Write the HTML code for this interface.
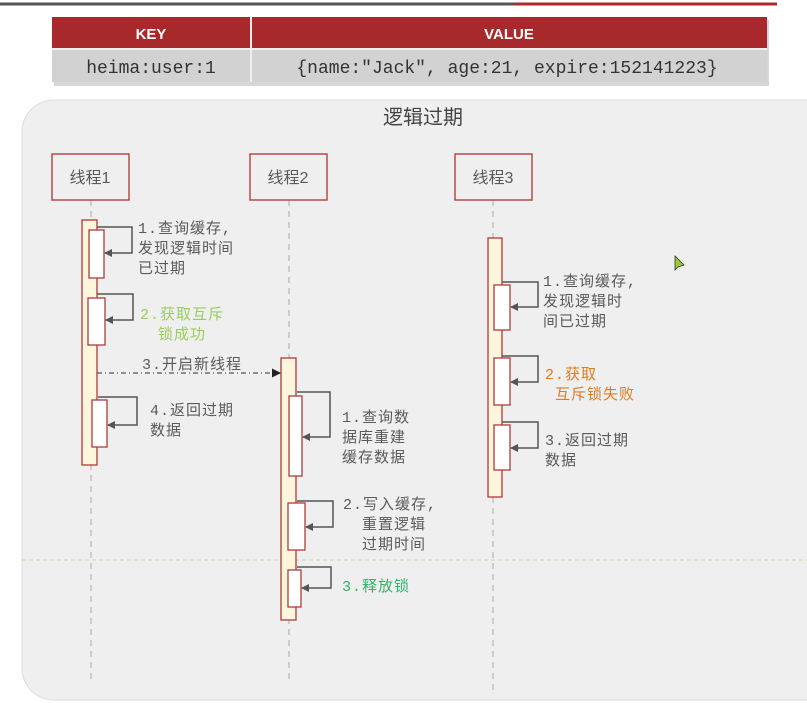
<!DOCTYPE html>
<html><head><meta charset="utf-8"><style>
html,body{margin:0;padding:0;background:#fff;width:807px;height:703px;overflow:hidden}
svg{display:block}
text{font-family:"Liberation Mono","Noto Sans CJK SC",monospace;font-size:15px;fill:#5a5a5a;letter-spacing:1px}
.s{font-family:"Liberation Sans","Noto Sans CJK SC",sans-serif;letter-spacing:0}
.m{font-family:"Liberation Mono","Noto Sans CJK SC",monospace;letter-spacing:0}
</style></head><body>
<svg width="807" height="703" viewBox="0 0 807 703" xmlns="http://www.w3.org/2000/svg">
<defs>
<marker id="ah" markerWidth="8" markerHeight="8" refX="7" refY="4" orient="auto" markerUnits="userSpaceOnUse"><path d="M0,0 L8,4 L0,8 z" fill="#555"/></marker>
<marker id="ah2" markerWidth="9" markerHeight="9" refX="8" refY="4.5" orient="auto" markerUnits="userSpaceOnUse"><path d="M0,0 L9,4.5 L0,9 z" fill="#222"/></marker>
</defs>
<line x1="0" y1="4" x2="515" y2="4" stroke="#555" stroke-width="3"/>
<line x1="515" y1="4" x2="777" y2="4" stroke="#b3262a" stroke-width="3"/>
<rect x="54" y="20" width="715" height="66" fill="#999" opacity="0.4"/>
<rect x="52" y="17" width="715" height="31" fill="#a8292b"/>
<rect x="52" y="50" width="715" height="32" fill="#d2d2d2"/>
<line x1="251" y1="17" x2="251" y2="82" stroke="#eee" stroke-width="2"/>
<line x1="52" y1="49" x2="767" y2="49" stroke="#eee" stroke-width="2"/>
<text x="151" y="39" text-anchor="middle" class="s" style="font-weight:bold;fill:#fff;font-size:15px">KEY</text>
<text x="509" y="39" text-anchor="middle" class="s" style="font-weight:bold;fill:#fff;font-size:15px">VALUE</text>
<text x="151" y="73" text-anchor="middle" class="m" style="fill:#333;font-size:18px">heima:user:1</text>
<text x="507" y="73" text-anchor="middle" class="m" style="fill:#333;font-size:18px">{name:"Jack", age:21, expire:152141223}</text>
<rect x="22" y="100" width="820" height="600" rx="32" fill="#efefef" stroke="#ddd"/>
<text x="423" y="124" text-anchor="middle" class="s" style="font-size:20px;fill:#444">逻辑过期</text>
<g stroke="#aaa" stroke-dasharray="6,5" stroke-width="1">
<line x1="91" y1="200" x2="91" y2="680"/>
<line x1="289" y1="200" x2="289" y2="680"/>
<line x1="493" y1="200" x2="493" y2="690"/>
</g>
<line x1="22" y1="560" x2="807" y2="560" stroke="#cdd6a0" stroke-dasharray="4,3"/>
<g fill="#efefef" stroke="#b84a4a" stroke-width="1.5">
<rect x="52" y="154" width="77" height="46"/>
<rect x="250" y="154" width="77" height="46"/>
<rect x="455" y="154" width="77" height="46"/>
</g>
<text x="90" y="183" text-anchor="middle" class="s" style="font-size:16px">线程1</text>
<text x="288" y="183" text-anchor="middle" class="s" style="font-size:16px">线程2</text>
<text x="493" y="183" text-anchor="middle" class="s" style="font-size:16px">线程3</text>
<g fill="#fdf6dc" stroke="#b03a3a" stroke-width="1.3">
<rect x="82" y="220" width="15" height="245"/>
<rect x="281" y="358" width="15" height="262"/>
<rect x="488" y="238" width="14" height="259"/>
</g>
<g fill="#fff" stroke="#b03a3a" stroke-width="1.3">
<rect x="89" y="230" width="15" height="48"/>
<rect x="88" y="298" width="17" height="47"/>
<rect x="92" y="400" width="15" height="47"/>
<rect x="289" y="396" width="13" height="80"/>
<rect x="288" y="503" width="17" height="47"/>
<rect x="288" y="570" width="13" height="37"/>
<rect x="494" y="285" width="16" height="45"/>
<rect x="494" y="358" width="16" height="47"/>
<rect x="494" y="425" width="16" height="45"/>
</g>
<g fill="none" stroke="#555" stroke-width="1.5" marker-end="url(#ah)">
<path d="M97,227 H132 V253 H105"/>
<path d="M97,294 H133 V320 H106"/>
<path d="M98,397 H137 V425 H108"/>
<path d="M297,392 H330 V437 H303"/>
<path d="M297,501 H333 V527 H306"/>
<path d="M297,567 H331 V588 H302"/>
<path d="M502,282 H538 V307 H511"/>
<path d="M502,356 H538 V382 H511"/>
<path d="M502,422 H538 V448 H511"/>
</g>
<line x1="97" y1="373" x2="280" y2="373" stroke="#555" stroke-width="1.2" stroke-dasharray="5,3,1,3" marker-end="url(#ah2)"/>
<text x="138" y="233">1.查询缓存,</text>
<text x="138" y="253">发现逻辑时间</text>
<text x="138" y="273">已过期</text>
<text x="140" y="319" style="fill:#9acd5a">2.获取互斥</text>
<text x="158" y="339" style="fill:#9acd5a">锁成功</text>
<text x="142" y="369">3.开启新线程</text>
<text x="150" y="415">4.返回过期</text>
<text x="150" y="435">数据</text>
<text x="342" y="422">1.查询数</text>
<text x="342" y="442">据库重建</text>
<text x="342" y="462">缓存数据</text>
<text x="343" y="509">2.写入缓存,</text>
<text x="362" y="529">重置逻辑</text>
<text x="362" y="549">过期时间</text>
<text x="342" y="591" style="fill:#2db36a">3.释放锁</text>
<text x="543" y="286">1.查询缓存,</text>
<text x="543" y="306">发现逻辑时</text>
<text x="543" y="326">间已过期</text>
<text x="545" y="379" style="fill:#e07b1e">2.获取</text>
<text x="555" y="399" style="fill:#e07b1e">互斥锁失败</text>
<text x="545" y="445">3.返回过期</text>
<text x="545" y="465">数据</text>
<path d="M675,256 L675,270 L678,267 L684,265 z" fill="#9acd32" stroke="#333" stroke-width="0.8"/>
</svg>
</body></html>
